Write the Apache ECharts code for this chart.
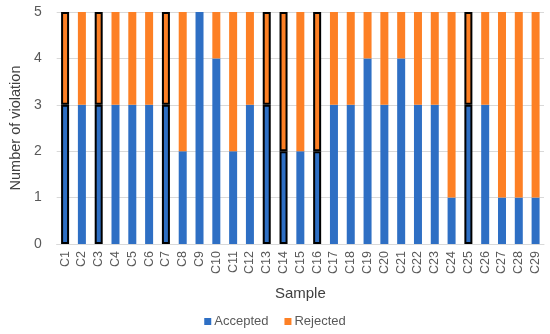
<!DOCTYPE html>
<html><head><meta charset="utf-8">
<script src="https://cdn.jsdelivr.net/npm/echarts@6/dist/echarts.min.js"></script>
<style>html,body{margin:0;padding:0;background:#fff}#c{width:550px;height:334px}</style>
</head><body><div id="c"></div>
<script>
const categories = ['C1','C2','C3','C4','C5','C6','C7','C8','C9','C10','C11','C12','C13','C14','C15','C16','C17','C18','C19','C20','C21','C22','C23','C24','C25','C26','C27','C28','C29'];
const accepted = [3,3,3,3,3,3,3,2,5,4,2,3,3,2,2,2,3,3,4,3,4,3,3,1,3,3,1,1,1];
const rejected = [2,2,2,2,2,2,2,3,0,1,3,2,2,3,3,3,2,2,1,2,1,2,2,4,2,2,4,4,4];
const highlighted = ['C1','C3','C7','C13','C14','C16','C25'];
const yTicks = [0,1,2,3,4,5];

function mk(vals){
  return vals.map((v,i)=> highlighted.includes(categories[i])
    ? {value:v, itemStyle:{borderColor:'#000', borderWidth:2}}
    : v);
}
const chart = echarts.init(document.getElementById('c'));
const font = 'Arial, Liberation Sans, sans-serif';
chart.setOption({
  animation:false,
  textStyle:{fontFamily:font},
  grid:{left:51, right:6, top:12, bottom:90, containLabel:false},
  legend:{bottom:1, left:'center', itemWidth:7, itemHeight:7, itemGap:16, icon:'rect',
    textStyle:{fontSize:13, color:'#595959', fontFamily:font, padding:[0,0,0,-2]},
    data:['Accepted','Rejected']},
  xAxis:{type:'category', data:categories, name:'Sample', nameLocation:'middle', nameGap:42,
    nameTextStyle:{fontSize:15, color:'#404040', fontFamily:font},
    axisTick:{show:false}, axisLine:{lineStyle:{color:'#d9d9d9'}},
    axisLabel:{rotate:90, fontSize:12.5, color:'#595959', interval:0, margin:7, fontFamily:font}},
  yAxis:{type:'value', min:0, max:5, interval:1, name:'Number of violation', nameLocation:'middle', nameGap:31,
    nameTextStyle:{fontSize:14.5, color:'#404040', fontFamily:font},
    axisLine:{show:false}, axisTick:{show:false},
    axisLabel:{fontSize:14, color:'#595959', margin:15, fontFamily:font, formatter:v=>yTicks.includes(v)?String(v):''},
    splitLine:{lineStyle:{color:'#d9d9d9'}}},
  series:[
    {name:'Accepted', type:'bar', stack:'a', data:mk(accepted), barWidth:8, itemStyle:{color:'#2e6fc4'}},
    {name:'Rejected', type:'bar', stack:'a', data:mk(rejected), barWidth:8, itemStyle:{color:'#fd8025'}}
  ]
});
</script></body></html>
